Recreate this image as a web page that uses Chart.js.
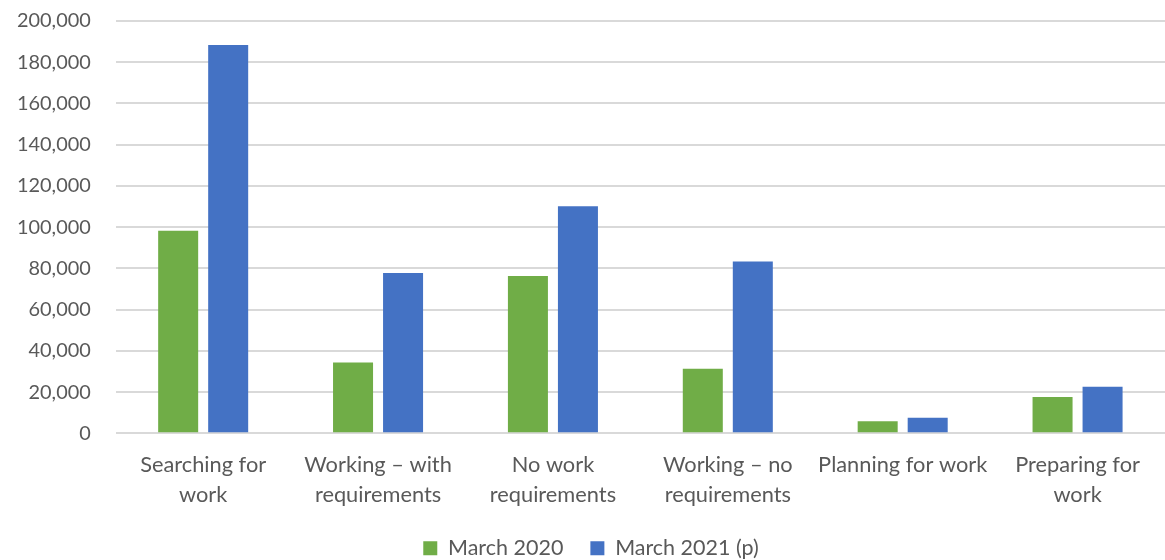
<!DOCTYPE html>
<html>
<head>
<meta charset="utf-8">
<script src="https://cdn.jsdelivr.net/npm/chart.js@4/dist/chart.umd.min.js"></script>
<style>
  html, body { margin: 0; padding: 0; background: #fff; }
  #wrap { width: 1165px; height: 560px; }
</style>
</head>
<body>
<div id="wrap"><canvas id="barChart"></canvas></div>
<script>
const categories = [
  ['Searching for', 'work'],
  ['Working \u2013 with', 'requirements'],
  ['No work', 'requirements'],
  ['Working \u2013 no', 'requirements'],
  ['Planning for work'],
  ['Preparing for', 'work']
];
const march2020 = [98300, 34300, 76300, 31300, 5800, 17600];
const march2021 = [188400, 77800, 110200, 83300, 7500, 22600];
const yTicks = { min: 0, max: 200000, step: 20000 };

const textColor = '#595959';
const fontFamily = 'Lato, "Open Sans", sans-serif';
const clear = 'rgba(0,0,0,0)';

const ctx = document.getElementById('barChart').getContext('2d');
const barChart = new Chart(ctx, {
  type: 'bar',
  data: {
    labels: categories,
    datasets: [
      {
        label: 'March 2020',
        data: march2020,
        backgroundColor: '#70AD47',
        categoryPercentage: 0.572,
        barPercentage: 0.8
      },
      {
        label: 'March 2021 (p)',
        data: march2021,
        backgroundColor: '#4472C4',
        categoryPercentage: 0.572,
        barPercentage: 0.8
      }
    ]
  },
  options: {
    responsive: true,
    maintainAspectRatio: false,
    animation: false,
    layout: {
      padding: { top: 21, left: 17, right: 0, bottom: -9 }
    },
    plugins: {
      tooltip: { enabled: false },
      legend: {
        position: 'bottom',
        labels: {
          color: textColor,
          font: { family: fontFamily, size: 21.5 },
          boxWidth: 14,
          boxHeight: 14,
          padding: 27,
          useBorderRadius: false
        }
      }
    },
    scales: {
      x: {
        // invisible tick marks push the labels down (padding would count twice)
        grid: { display: true, drawOnChartArea: false, color: clear, drawTicks: true, tickLength: 17, tickColor: clear },
        border: { display: false },
        ticks: {
          color: textColor,
          font: { family: fontFamily, size: 21.8, lineHeight: 1.38 },
          maxRotation: 0,
          autoSkip: false,
          padding: 0
        }
      },
      y: {
        min: yTicks.min,
        max: yTicks.max,
        border: { display: false },
        grid: { color: '#d9d9d9', lineWidth: 2, drawTicks: true, tickLength: 25, tickColor: clear },
        ticks: {
          stepSize: yTicks.step,
          color: textColor,
          font: { family: fontFamily, size: 19.9 },
          padding: 0,
          callback: function (v) { return v.toLocaleString('en-US'); }
        }
      }
    }
  }
});
</script>
</body>
</html>
